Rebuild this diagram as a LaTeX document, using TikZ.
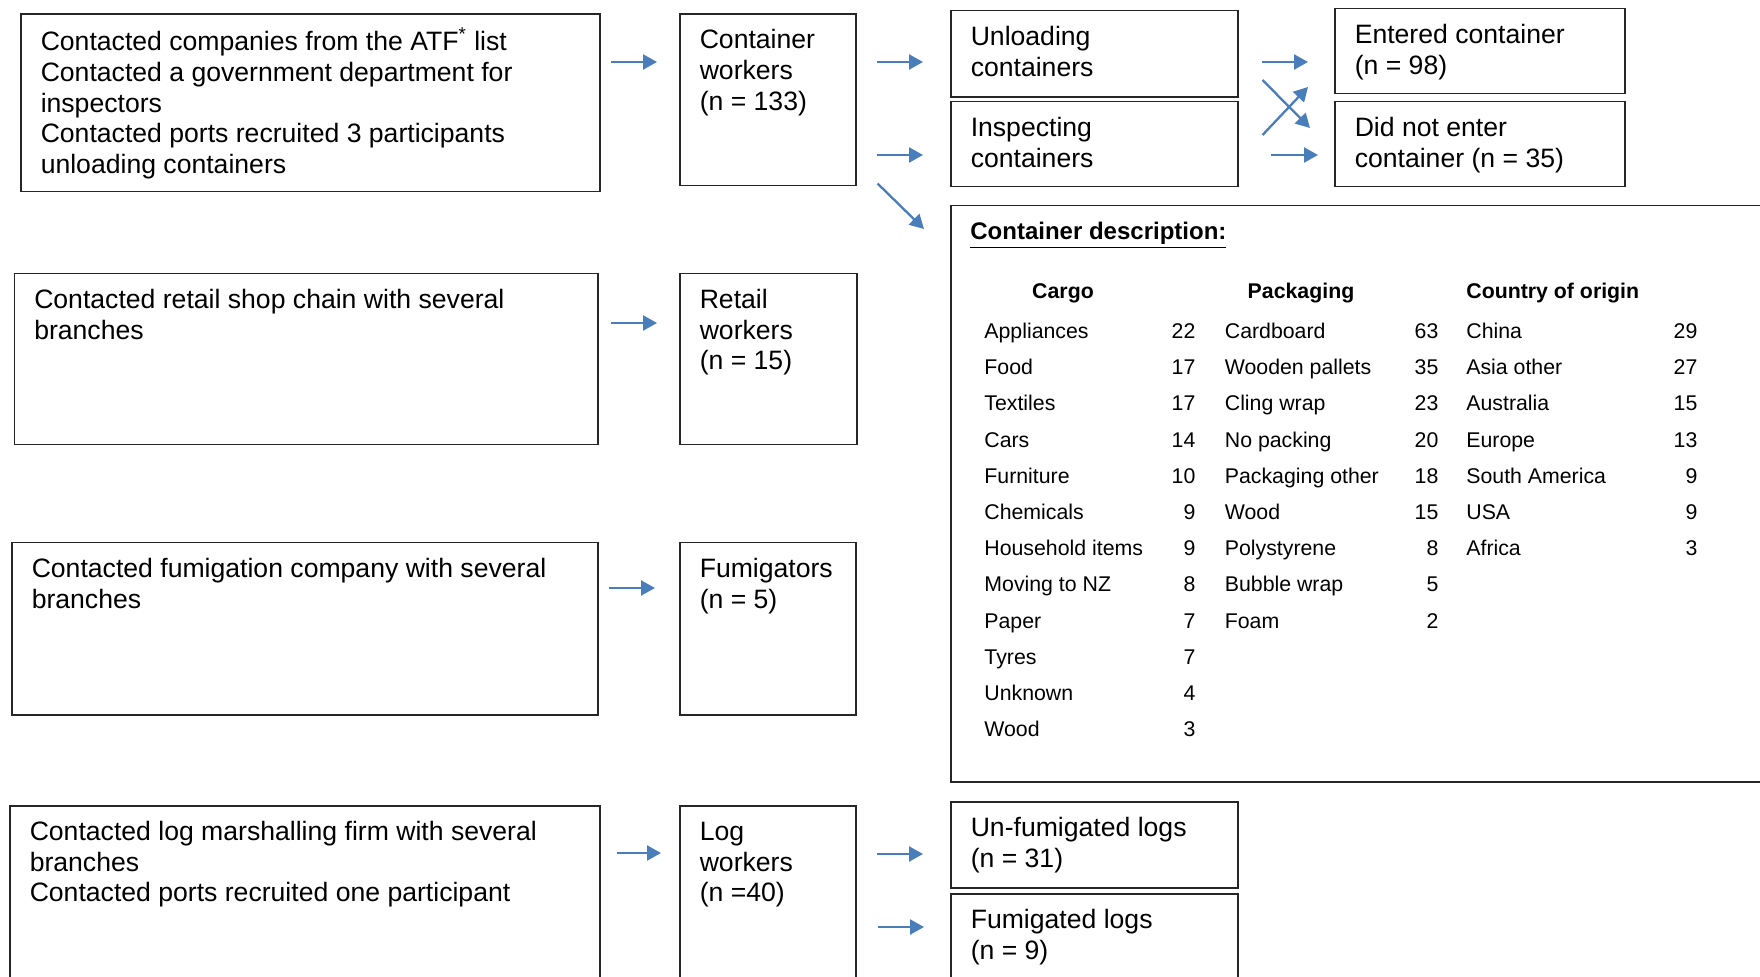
\documentclass[tikz,border=0pt]{standalone}
\usepackage{fontspec}
\setmainfont{Liberation Sans}
\usetikzlibrary{arrows.meta,calc}

\definecolor{arrowblue}{RGB}{74,126,187}
\newcommand{\boxfont}{\fontsize{13.3pt}{15.4pt}\selectfont}
\newcommand{\tabfont}{\fontsize{10.65pt}{18.1pt}\selectfont}
\newcommand{\boxtext}[3]{\parbox[t][#2][t]{#1}{\boxfont\raggedright\strut #3}}

\begin{document}
\begin{tikzpicture}
  [x=0.5pt,y=-0.5pt,>={Triangle[length=7pt,width=7.5pt]},
  box/.style={draw=black!85,line width=0.75pt,anchor=north west,inner xsep=10pt,inner ysep=6.5pt},
  flow/.style={->,draw=arrowblue,fill=arrowblue,line width=1.15pt},
  head/.style={font=\tabfont\bfseries,inner sep=0pt}]
  \useasboundingbox (0,0) rectangle (1760,977);
  \node[box] (atf) at (20,13.5) {\boxtext{269.5pt}{75.75pt}{Contacted companies from the ATF\textsuperscript{*} list\\
    Contacted a government department for\\ inspectors\\
    Contacted ports recruited 3 participants\\ unloading containers}};
  \node[box] (container) at (679,13.5) {\boxtext{68pt}{72.75pt}{Container\\ workers\\ (n = 133)}};
  \node[box] (unloading) at (950,10) {\boxtext{123.5pt}{30.25pt}{Unloading\\ containers}};
  \node[box] (inspecting) at (950,101) {\boxtext{123.5pt}{29.5pt}{Inspecting\\ containers}};
  \node[box] (entered) at (1334,8) {\boxtext{125pt}{29.5pt}{Entered container\\ (n = 98)}};
  \node[box] (notentered) at (1334,101) {\boxtext{125pt}{29.5pt}{Did not enter\\ container (n = 35)}};
  \node[box,minimum width=415pt,minimum height=288pt] (desc) at (950,205) {};
  \node[anchor=base west,inner sep=0pt,font=\fontsize{12pt}{14pt}\selectfont\bfseries] (desctitle)
    at (970,239.5) {\underline{Container description:}};
  \node[head,anchor=base] (cargohead) at (1063,298.5) {Cargo};
  \node[head,anchor=base] (packhead) at (1301,298.5) {Packaging};
  \node[head,anchor=base west] (originhead) at (1466,298.5) {Country of origin};
  \node[anchor=base west,inner sep=0pt,font=\tabfont] (desctable) at (984,338.5)
    {\begin{tabular}[t]{@{}p{93.65pt}@{}r@{\hspace{14.75pt}}p{94.9pt}@{}r@{\hspace{14pt}}p{103.65pt}@{}r@{}}
      Appliances & 22 & Cardboard & 63 & China & 29\\
      Food & 17 & Wooden pallets & 35 & Asia other & 27\\
      Textiles & 17 & Cling wrap & 23 & Australia & 15\\
      Cars & 14 & No packing & 20 & Europe & 13\\
      Furniture & 10 & Packaging other & 18 & South America & 9\\
      Chemicals & 9 & Wood & 15 & USA & 9\\
      Household items & 9 & Polystyrene & 8 & Africa & 3\\
      Moving to NZ & 8 & Bubble wrap & 5 & & \\
      Paper & 7 & Foam & 2 & & \\
      Tyres & 7 & & & & \\
      Unknown & 4 & & & & \\
      Wood & 3 & & & & \\
    \end{tabular}};
  \node[box] (retail) at (13.5,273) {\boxtext{271.75pt}{72.5pt}{Contacted retail shop chain with several\\ branches}};
  \node[box] (retailw) at (679,273) {\boxtext{68.5pt}{72.5pt}{Retail\\ workers\\ (n = 15)}};
  \node[box] (fumco) at (11,542) {\boxtext{273pt}{73pt}{Contacted fumigation company with several\\ branches}};
  \node[box] (fumigators) at (679,542) {\boxtext{68pt}{73pt}{Fumigators\\ (n = 5)}};
  \node[box] (logfirm) at (9,805) {\boxtext{275pt}{87pt}{Contacted log marshalling firm with several\\ branches\\
    Contacted ports recruited one participant}};
  \node[box] (logw) at (679,805) {\boxtext{68pt}{87pt}{Log\\ workers\\ (n =40)}};
  \node[box] (unfumlogs) at (950,801) {\boxtext{123.5pt}{30pt}{Un-fumigated logs\\ (n = 31)}};
  \node[box] (fumlogs) at (950,893) {\boxtext{123.5pt}{37pt}{Fumigated logs\\ (n = 9)}};
  \draw[flow] ($(atf.north east)+(10,48.5)$) -- ($(container.north west)+(-22,48.5)$);
  \draw[flow] ($(container.north east)+(20,48.5)$) -- ($(unloading.north west)+(-27,52)$);
  \draw[flow] ($(container.north east)+(20,141.5)$) -- ($(inspecting.north west)+(-27,54)$);
  \draw[flow] ($(container.south east)+(21,-3)$) -- ($(desc.north west)+(-26,24)$);
  \draw[flow] ($(unloading.north east)+(23,52)$) -- ($(entered.north west)+(-26,54)$);
  \draw[flow] ($(unloading.north east)+(24,70)$) -- ($(notentered.north west)+(-24,27)$);
  \draw[flow] ($(inspecting.north east)+(24,34)$) -- ($(entered.north west)+(-26,79)$);
  \draw[flow] ($(inspecting.north east)+(32,54)$) -- ($(notentered.north west)+(-16,54)$);
  \draw[flow] ($(retail.north east)+(12,50)$) -- ($(retailw.north west)+(-22,50)$);
  \draw[flow] ($(fumco.north east)+(10,46)$) -- ($(fumigators.north west)+(-24,46)$);
  \draw[flow] ($(logfirm.north east)+(16,48)$) -- ($(logw.north west)+(-18,48)$);
  \draw[flow] ($(logw.north east)+(20,49)$) -- ($(unfumlogs.north west)+(-27,53)$);
  \draw[flow] ($(logw.north east)+(21,122)$) -- ($(fumlogs.north west)+(-26,34)$);
\end{tikzpicture}
\end{document}
